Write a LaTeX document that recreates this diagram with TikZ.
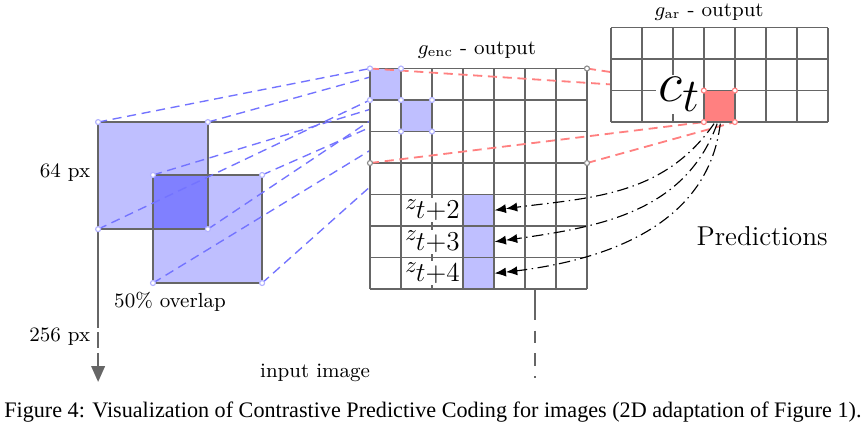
\documentclass[tikz,border=0pt]{standalone}
\usepackage{fontspec}
\newfontfamily\capfont{Liberation Serif}
\usetikzlibrary{arrows.meta,positioning}

\begin{document}
\begin{tikzpicture}[x=13.64pt, y=13.86pt, font=\small]
    % 样式
    \tikzstyle{frame}=[black!60, line width=0.8pt]
    \tikzstyle{patch}=[fill=blue!25]
    \tikzstyle{blue link}=[blue!55, line width=0.6pt, dash pattern=on 4pt off 2.5pt]
    \tikzstyle{red link}=[red!50, line width=0.8pt, dash pattern=on 4pt off 2.5pt]
    \tikzstyle{pred link}=[line width=0.5pt, dash pattern=on 5pt off 2pt on 0.6pt off 2pt, -{Latex[length=5pt,width=4pt]Latex[length=5pt,width=4pt]}]
    \tikzstyle{zlabel}=[fill=white, inner sep=0.5pt, anchor=east, font=\normalsize]

    \useasboundingbox (-11.935,-4.508) rectangle (16.065,9.175);

    % 输入图像与两个图块的角点
    \coordinate (p1a) at (-8.77,5.3);
    \coordinate (p1b) at (-5.23,5.3);
    \coordinate (p1c) at (-8.77,1.9);
    \coordinate (p1d) at (-5.23,1.9);
    \coordinate (p2a) at (-7,3.62);
    \coordinate (p2b) at (-3.48,3.62);
    \coordinate (p2c) at (-7,0.19);
    \coordinate (p2d) at (-3.48,0.19);
    \coordinate (imgL) at (-8.77,-0.73);
    \coordinate (imgLend) at (-8.77,-2.95);
    \coordinate (imgTR) at (5.32,5.3);
    \coordinate (imgR) at (5.32,-0.6);
    \coordinate (imgRend) at (5.32,-2.83);

    % g_enc 中对应的格子
    \coordinate (e1a) at (0,7);
    \coordinate (e1b) at (1,7);
    \coordinate (e1c) at (0,6);
    \coordinate (e1d) at (1,6);
    \coordinate (e2a) at (1,6);
    \coordinate (e2b) at (2,6);
    \coordinate (e2c) at (1,5);
    \coordinate (e2d) at (2,5);

    % g_ar 中的 c_t 格子
    \coordinate (ar) at (7.77,5.3);
    \coordinate (ca) at (10.77,6.3);
    \coordinate (cb) at (11.77,6.3);
    \coordinate (cc) at (10.77,5.3);
    \coordinate (cd) at (11.77,5.3);

    % 输入图像 (边框)
    \draw[frame] (imgL) -- (p1a) -- (imgTR) -- (imgR);
    \draw[frame, dash pattern=on 7pt off 2pt, -{Triangle[length=7pt,width=6pt]}] (imgL) -- (imgLend);
    \draw[frame, dash pattern=on 5.5pt off 4.5pt] (imgR) -- (imgRend);

    % 图块 (50% 重叠)
    \fill[patch] (p1a) rectangle (p1d);
    \fill[patch] (p2a) rectangle (p2d);
    \fill[blue!50] (p2a) rectangle (p1d);
    \draw[frame] (p1a) rectangle (p1d);
    \draw[frame] (p2a) rectangle (p2d);

    % 图块 -> 编码格子
    \foreach \i in {a,b,c,d} {
        \draw[blue link] (p1\i) -- (e1\i);
        \draw[blue link] (p2\i) -- (e2\i);
    }

    % g_enc 输出网格
    \fill[white] (0,0) rectangle (7,7);
    \fill[blue!25] (e1a) rectangle (e1d);
    \fill[blue!25] (e2a) rectangle (e2d);
    \fill[blue!25] (3,0) rectangle (4,3);
    \foreach \k in {0,...,7} {
        \draw[frame] (\k,0) -- (\k,7);
        \draw[frame] (0,\k) -- (7,\k);
    }
    \node (enc label) at (3.45,7.59) {$g_{\mathrm{enc}}$ - output};

    \node[zlabel] (z2) at (2.98,2.5) {$z_{\hbox{\large$t{+}2$}}$};
    \node[zlabel] (z3) at (2.98,1.5) {$z_{\hbox{\large$t{+}3$}}$};
    \node[zlabel] (z4) at (2.98,0.5) {$z_{\hbox{\large$t{+}4$}}$};

    % 上下文 -> c_t (红色虚线)
    \draw[red link] (e1a) -- (ca);
    \draw[red link] (7,7) coordinate (e3b) -- (cb);
    \draw[red link] (0,4) coordinate (e3c) -- (cc);
    \draw[red link] (7,4) coordinate (e3d) -- (cd);

    % g_ar 输出网格
    \begin{scope}[shift={(ar)}]
        \fill[white] (0,0) rectangle (7,3);
        \fill[red!50] (3,0) rectangle (4,1);
        \foreach \k in {0,...,7} \draw[frame] (\k,0) -- (\k,3);
        \foreach \k in {0,...,3} \draw[frame] (0,\k) -- (7,\k);
    \end{scope}
    \node (ar label) at (10.94,8.79) {$g_{\mathrm{ar}}$ - output};
    \node[fill=white, inner sep=1pt, anchor=base east, font=\Huge] (ct) at (10.74,5.94) {$c_t$};

    % 预测 (点划线箭头)
    \coordinate (s1) at (11.1,5.25);
    \coordinate (s2) at (11.2,5.25);
    \coordinate (s3) at (11.3,5.25);
    \coordinate (t1) at (4.02,2.5);
    \coordinate (t2) at (4.02,1.5);
    \coordinate (t3) at (4.02,0.5);
    \draw[pred link] (s1) to[out=-125, in=8] (t1);
    \draw[pred link] (s2) to[out=-110, in=8] (t2);
    \draw[pred link] (s3) to[out=-97, in=6] (t3);
    \node[font=\large] (pred) at (12.65,1.68) {Predictions};

    % 角点小圆圈
    \foreach \p in {p1a,p1b,p1c,p1d,p2a,p2b,p2c,p2d,e1a,e1b,e1c,e1d,e2b,e2c,e2d}
        \draw[blue!30, fill=white, line width=0.5pt] (\p) circle (1.1pt);
    \foreach \p in {e3b,e3c,e3d}
        \draw[black!45, fill=white, line width=0.5pt] (\p) circle (1.1pt);
    \foreach \p in {ca,cb,cc,cd}
        \draw[red!50, fill=white, line width=0.5pt] (\p) circle (1.1pt);

    % 文字标注
    \node[anchor=east] (size patch) at (-8.77,3.71) {64 px};
    \node[anchor=east] (size img) at (-8.77,-1.52) {256 px};
    \node (overlap) at (-6.45,-0.41) {50\% overlap};
    \node (img label) at (-1.77,-2.67) {input image};
    \node[anchor=west, inner sep=0pt, font=\capfont\fontsize{9.75}{11}\selectfont] (caption) at (-11.81,-3.905)
        {Figure 4: Visualization of Contrastive Predictive Coding for images (2D adaptation of Figure 1).};
\end{tikzpicture}
\end{document}
